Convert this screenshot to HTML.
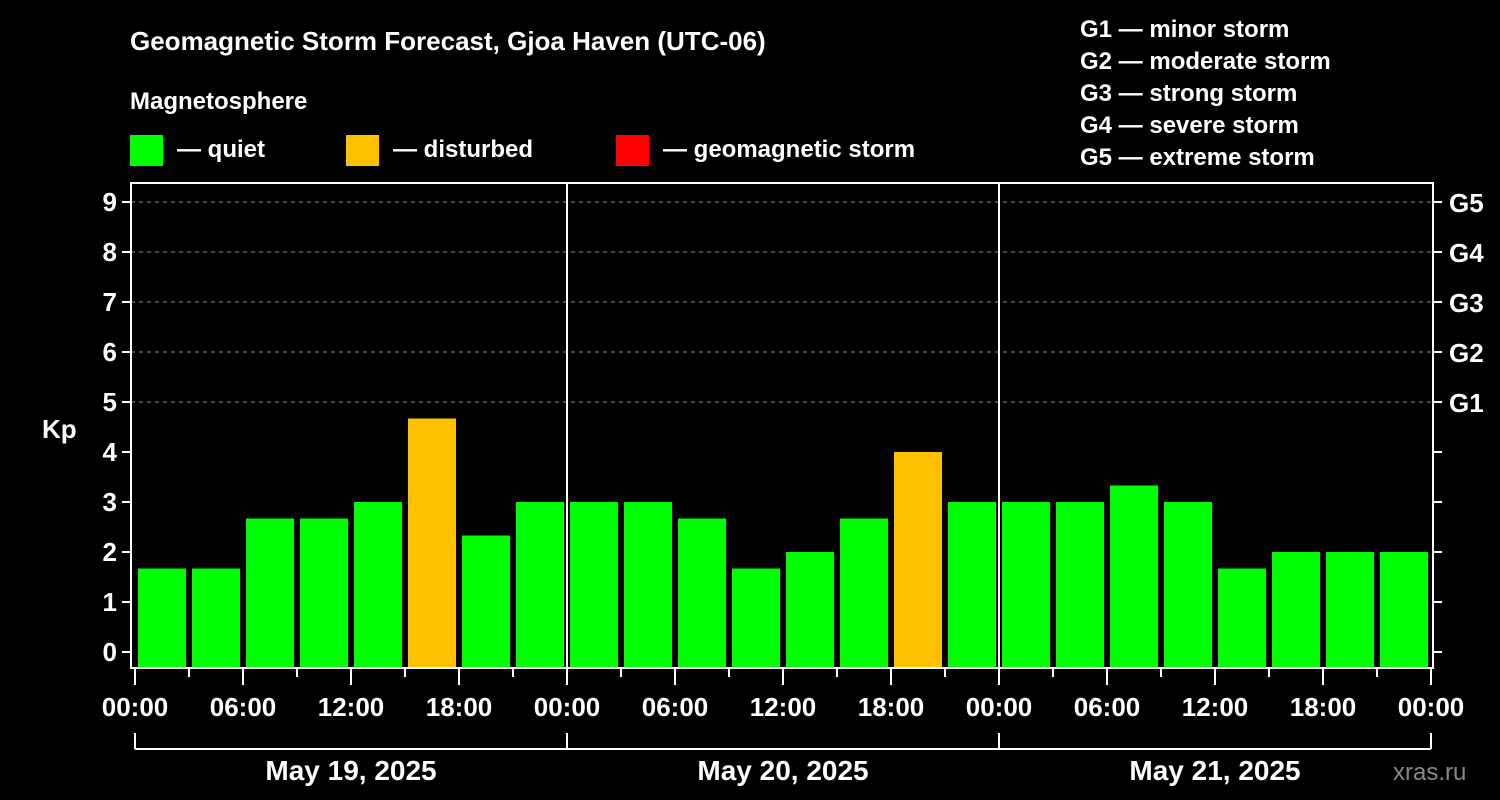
<!DOCTYPE html>
<html><head><meta charset="utf-8"><style>
body{margin:0;background:#000;}
svg{display:block;font-family:"Liberation Sans",sans-serif;font-weight:bold;}
</style></head><body>
<svg id="c" width="1500" height="800">
<text x="130" y="50" fill="#fff" font-size="26">Geomagnetic Storm Forecast, Gjoa Haven (UTC-06)</text>
<text x="130" y="109" fill="#fff" font-size="24">Magnetosphere</text>
<rect x="130" y="135" width="33" height="31" fill="#00ff00"/>
<text x="177" y="157" fill="#fff" font-size="24">— quiet</text>
<rect x="346" y="135" width="33" height="31" fill="#ffc000"/>
<text x="393" y="157" fill="#fff" font-size="24">— disturbed</text>
<rect x="616" y="135" width="33" height="31" fill="#ff0000"/>
<text x="663" y="157" fill="#fff" font-size="24">— geomagnetic storm</text>
<g fill="#fff" font-size="24">
<text x="1080" y="37">G1 — minor storm</text>
<text x="1080" y="69">G2 — moderate storm</text>
<text x="1080" y="101">G3 — strong storm</text>
<text x="1080" y="133">G4 — severe storm</text>
<text x="1080" y="165">G5 — extreme storm</text>
</g>
<text x="42" y="438" fill="#fff" font-size="26">Kp</text>
<g id="grid"></g><g id="bars"></g><g id="axes"></g>
<text x="1393" y="780" fill="#888" font-size="24" font-weight="normal">xras.ru</text>
</svg>
<script>
const values=[1.67,1.67,2.67,2.67,3,4.67,2.33,3,3,3,2.67,1.67,2,2.67,4,3,3,3,3.33,3,1.67,2,2,2];
const dayLabels=["May 19, 2025","May 20, 2025","May 21, 2025"];
const hourLabels=["00:00","06:00","12:00","18:00"];
const gLabels=["G1","G2","G3","G4","G5"];
const NS="http://www.w3.org/2000/svg";
const X0=135,SLOT=54,Y0=652,U=50,L=131,R=1433,T=183,B=668;
const xs=i=>X0+i*SLOT, ys=v=>Y0-v*U;
function mk(p,tag,a,txt){const e=document.createElementNS(NS,tag);for(const k in a)e.setAttribute(k,a[k]);if(txt!=null)e.textContent=txt;document.getElementById(p).appendChild(e);return e;}
for(let v=5;v<=9;v++){const e=mk('grid','line',{x1:L,x2:R,y1:ys(v),y2:ys(v),stroke:'#888','stroke-dasharray':'4,4'});

}
values.forEach((v,i)=>{const e=mk('bars','rect',{x:xs(i)+3,y:ys(v),width:SLOT-6,height:B-ys(v),fill:v>=5?'#ff0000':(v>=4?'#ffc000':'#00ff00')});

});
const fr=mk('axes','rect',{x:L,y:T,width:R-L,height:B-T,fill:'none',stroke:'#fff','stroke-width':2});


for(let d=1;d<3;d++){const e=mk('axes','line',{x1:xs(d*8),x2:xs(d*8),y1:T,y2:B,stroke:'#fff','stroke-width':2});

}
for(let v=0;v<=9;v++){mk('axes','line',{x1:L-9,x2:L,y1:ys(v),y2:ys(v),stroke:'#fff','stroke-width':2});
mk('axes','line',{x1:R,x2:R+9,y1:ys(v),y2:ys(v),stroke:'#fff','stroke-width':2});
const t=mk('axes','text',{x:L-14,y:ys(v)+9,fill:'#fff','font-size':26,'text-anchor':'end'},String(v));

}
gLabels.forEach((g,i)=>{const t=mk('axes','text',{x:R+16,y:ys(5+i)+10,fill:'#fff','font-size':26},g);

});
for(let i=0;i<=24;i++){const major=i%2==0;mk('axes','line',{x1:xs(i),x2:xs(i),y1:B,y2:B+(major?17:9),stroke:'#fff','stroke-width':2});
if(major){const lab=hourLabels[(i/2)%4];const t=mk('axes','text',{x:xs(i),y:716,fill:'#fff','font-size':26,'text-anchor':'middle'},lab);

}}
mk('axes','line',{x1:xs(0),x2:xs(24),y1:749,y2:749,stroke:'#fff','stroke-width':2});
for(let d=0;d<=3;d++)mk('axes','line',{x1:xs(d*8),x2:xs(d*8),y1:733,y2:749,stroke:'#fff','stroke-width':2});
dayLabels.forEach((l,d)=>{const t=mk('axes','text',{x:xs(d*8+4),y:780,fill:'#fff','font-size':28,'text-anchor':'middle'},l);

});
</script>
</body></html>
